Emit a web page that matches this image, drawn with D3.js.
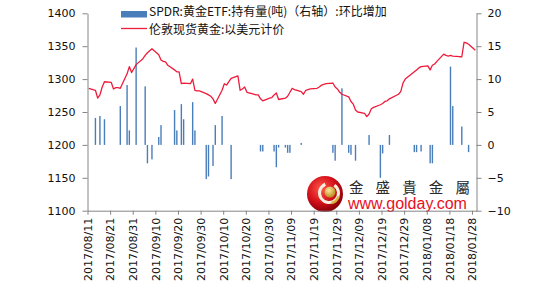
<!DOCTYPE html>
<html>
<head>
<meta charset="utf-8">
<script src="https://cdn.jsdelivr.net/npm/d3@7"></script>
<style>
  body { margin: 0; background: #fff; }
  svg { display: block; }
</style>
</head>
<body>
<svg id="chart" width="543" height="288"></svg>
<script>
// London spot gold, USD (left axis)
const goldSeries = [
  ["2017-08-11",1286],["2017-08-14",1283],["2017-08-15",1271],["2017-08-16",1276],["2017-08-17",1288],
  ["2017-08-18",1296],["2017-08-21",1295],["2017-08-22",1285],["2017-08-23",1287],["2017-08-24",1287],
  ["2017-08-25",1286],["2017-08-28",1308],["2017-08-29",1319],["2017-08-30",1310],["2017-08-31",1316],
  ["2017-09-01",1322],["2017-09-04",1331],["2017-09-05",1336],["2017-09-06",1340],["2017-09-07",1343],
  ["2017-09-08",1346],["2017-09-11",1337],["2017-09-12",1329],["2017-09-13",1327],["2017-09-14",1326],
  ["2017-09-15",1321],["2017-09-18",1314],["2017-09-19",1311],["2017-09-20",1311],["2017-09-21",1293],
  ["2017-09-22",1294],["2017-09-25",1293],["2017-09-26",1300],["2017-09-27",1283],["2017-09-28",1282],
  ["2017-09-29",1282],["2017-10-02",1278],["2017-10-03",1276],["2017-10-04",1274],["2017-10-05",1270],
  ["2017-10-06",1263],["2017-10-09",1283],["2017-10-10",1293],["2017-10-11",1291],["2017-10-12",1296],
  ["2017-10-13",1301],["2017-10-16",1305],["2017-10-17",1283],["2017-10-18",1285],["2017-10-19",1288],
  ["2017-10-20",1280],["2017-10-23",1277],["2017-10-24",1276],["2017-10-25",1276],["2017-10-26",1270],
  ["2017-10-27",1267],["2017-10-30",1271],["2017-10-31",1272],["2017-11-01",1276],["2017-11-02",1279],
  ["2017-11-03",1269],["2017-11-06",1271],["2017-11-07",1274],["2017-11-08",1280],["2017-11-09",1286],
  ["2017-11-10",1284],["2017-11-13",1281],["2017-11-14",1277],["2017-11-15",1283],["2017-11-16",1284],
  ["2017-11-17",1285],["2017-11-20",1286],["2017-11-21",1288],["2017-11-22",1291],["2017-11-23",1292],
  ["2017-11-24",1293],["2017-11-27",1294],["2017-11-28",1288],["2017-11-29",1285],["2017-11-30",1280],
  ["2017-12-01",1277],["2017-12-04",1273],["2017-12-05",1266],["2017-12-06",1262],["2017-12-07",1253],
  ["2017-12-08",1250],["2017-12-11",1248],["2017-12-12",1243],["2017-12-13",1247],["2017-12-14",1255],
  ["2017-12-15",1257],["2017-12-18",1261],["2017-12-19",1263],["2017-12-20",1266],["2017-12-21",1267],
  ["2017-12-22",1270],["2017-12-26",1277],["2017-12-27",1281],["2017-12-28",1294],["2017-12-29",1300],
  ["2018-01-02",1311],["2018-01-03",1314],["2018-01-04",1317],["2018-01-05",1319],["2018-01-08",1320],
  ["2018-01-09",1314],["2018-01-10",1321],["2018-01-11",1323],["2018-01-12",1327],["2018-01-15",1338],
  ["2018-01-16",1336],["2018-01-17",1335],["2018-01-18",1336],["2018-01-19",1335],["2018-01-22",1334],
  ["2018-01-23",1334],["2018-01-24",1356],["2018-01-25",1355],["2018-01-26",1353],["2018-01-29",1344]
];

// SPDR gold ETF holdings change, tonnes (right axis)
const etfSeries = [
  ["2017-08-14",4.1],["2017-08-16",4.4],["2017-08-18",3.9],["2017-08-25",5.9],["2017-08-28",9.1],
  ["2017-08-29",2.2],["2017-09-01",14.8],["2017-09-05",8.9],["2017-09-06",-2.8],["2017-09-08",-2.2],
  ["2017-09-11",1.2],["2017-09-12",3.0],["2017-09-18",5.3],["2017-09-19",2.2],["2017-09-21",6.2],
  ["2017-09-22",3.9],["2017-09-26",6.5],["2017-09-27",2.2],["2017-10-02",-5.2],["2017-10-03",-4.8],
  ["2017-10-05",-3.2],["2017-10-06",3.0],["2017-10-09",4.4],["2017-10-13",-5.2],["2017-10-26",-1.0],
  ["2017-10-27",-1.0],["2017-11-01",-1.0],["2017-11-02",-3.4],["2017-11-03",-0.4],["2017-11-06",-0.4],
  ["2017-11-07",-1.2],["2017-11-08",-1.2],["2017-11-13",0.3],["2017-11-27",-1.2],["2017-11-28",-2.4],
  ["2017-12-01",8.6],["2017-12-04",-1.2],["2017-12-05",-1.5],["2017-12-07",-2.4],["2017-12-13",1.5],
  ["2017-12-18",-5.0],["2017-12-19",-1.3],["2017-12-22",1.5],["2018-01-02",-1.1],["2018-01-03",-1.1],
  ["2018-01-05",-1.0],["2018-01-09",-2.8],["2018-01-10",-2.8],["2018-01-18",11.9],["2018-01-19",5.9],
  ["2018-01-23",2.8],["2018-01-26",-1.1]
];

const xTickLabels = ["2017/08/11","2017/08/21","2017/08/31","2017/09/10","2017/09/20","2017/09/30",
  "2017/10/10","2017/10/20","2017/10/30","2017/11/09","2017/11/19","2017/11/29","2017/12/09",
  "2017/12/19","2017/12/29","2018/01/08","2018/01/18","2018/01/28"];
const leftTicks = [1100, 1150, 1200, 1250, 1300, 1350, 1400];
const rightTicks = [-10, -5, 0, 5, 10, 15, 20];
const legendLabels = ["SPDR:黄金ETF:持有量(吨)（右轴）:环比增加", "伦敦现货黄金:以美元计价"];
const brandChars = ["金", "盛", "貴", "金", "屬"];
const brandUrl = "www.golday.com";

const svg = d3.select("#chart"),
      margin = {top: 13.3, right: 66.5, bottom: 77.3, left: 87.5},
      width = +svg.attr("width"),
      height = +svg.attr("height");

const parseDash = d3.timeParse("%Y-%m-%d");
const parseSlash = d3.timeParse("%Y/%m/%d");
const fmt = d3.timeFormat("%Y/%m/%d");

const x = d3.scaleTime()
    .domain([parseDash("2017-08-11"), parseDash("2018-01-30")])
    .range([margin.left, width - margin.right]);
const halfDay = (x(parseDash("2017-08-12")) - x(parseDash("2017-08-11"))) / 2;

const yLeft = d3.scaleLinear().domain([1100, 1400]).range([height - margin.bottom, margin.top]);
const yRight = d3.scaleLinear().domain([-10, 20]).range([height - margin.bottom, margin.top]);

const axisColor = "#868686";
const axisFont = "'DejaVu Sans', Verdana, sans-serif";

// watermark logo (behind everything)
const logo = svg.append("g").attr("class", "logo");
const defs = svg.append("defs");
const redGrad = defs.append("radialGradient").attr("id", "redBall")
    .attr("cx", "40%").attr("cy", "35%").attr("r", "65%");
redGrad.append("stop").attr("offset", "0%").attr("stop-color", "#ff5a4a");
redGrad.append("stop").attr("offset", "60%").attr("stop-color", "#d4101a");
redGrad.append("stop").attr("offset", "100%").attr("stop-color", "#8a0008");
const goldGrad = defs.append("radialGradient").attr("id", "goldBall")
    .attr("cx", "40%").attr("cy", "35%").attr("r", "65%");
goldGrad.append("stop").attr("offset", "0%").attr("stop-color", "#fbe9a0");
goldGrad.append("stop").attr("offset", "100%").attr("stop-color", "#b98a1a");

logo.append("circle").attr("cx", 325).attr("cy", 194).attr("r", 18).attr("fill", "url(#redBall)");
logo.append("path")
    .attr("d", d3.arc()({innerRadius: 8, outerRadius: 11, startAngle: 0.6, endAngle: 2 * Math.PI - 0.4}))
    .attr("transform", "translate(329,193)")
    .attr("fill", "#f6efe0");
logo.append("path")
    .attr("d", d3.arc()({innerRadius: 9, outerRadius: 11.5, startAngle: 1.9, endAngle: 2.9}))
    .attr("transform", "translate(329,193)")
    .attr("fill", "#d8b440");
logo.append("circle").attr("cx", 330).attr("cy", 192).attr("r", 5.5).attr("fill", "url(#goldBall)");

logo.selectAll("text.brand")
    .data(brandChars)
    .join("text")
    .attr("class", "brand")
    .attr("x", (d, i) => 349 + i * 26.6)
    .attr("y", 192.5)
    .attr("font-family", "'Noto Sans CJK TC', 'Noto Sans CJK SC', sans-serif")
    .attr("font-size", 14.5)
    .attr("fill", "#2a2a2a")
    .text(d => d);

logo.append("text")
    .attr("x", 348)
    .attr("y", 208.5)
    .attr("font-family", "'Liberation Sans', Arial, sans-serif")
    .attr("font-size", 16)
    .attr("fill", "#e8101c")
    .text(brandUrl);

// bars: ETF holdings change
const zeroY = yRight(0);
svg.append("g")
  .selectAll("rect")
  .data(etfSeries)
  .join("rect")
    .attr("x", d => x(parseDash(d[0])) + halfDay - 0.7)
    .attr("width", 1.4)
    .attr("y", d => Math.min(yRight(d[1]), zeroY))
    .attr("height", d => Math.abs(yRight(d[1]) - zeroY))
    .attr("fill", "#4a7ebb");

// line: London spot gold
const line = d3.line()
    .x(d => x(parseDash(d[0])) + halfDay)
    .y(d => yLeft(d[1]));

svg.append("path")
    .datum(goldSeries)
    .attr("d", line)
    .attr("fill", "none")
    .attr("stroke", "#ee1b3b")
    .attr("stroke-width", 1.3)
    .attr("stroke-linejoin", "round");

// axes
function styleAxis(g) {
  g.select(".domain").attr("stroke", axisColor);
  g.selectAll(".tick line").attr("stroke", axisColor);
  g.selectAll(".tick text").attr("fill", "#111").attr("font-family", axisFont).attr("font-size", 11);
}

svg.append("g")
    .attr("transform", `translate(${margin.left},0)`)
    .call(d3.axisLeft(yLeft).tickValues(leftTicks).tickFormat(d3.format("d"))
        .tickSize(5).tickSizeOuter(0).tickPadding(7))
    .call(styleAxis);

svg.append("g")
    .attr("transform", `translate(${width - margin.right},0)`)
    .call(d3.axisRight(yRight).tickValues(rightTicks).tickFormat(d3.format("d"))
        .tickSize(5).tickSizeOuter(0).tickPadding(6))
    .call(styleAxis);

const xAxis = svg.append("g")
    .attr("transform", `translate(0,${height - margin.bottom})`)
    .call(d3.axisBottom(x)
        .tickValues(xTickLabels.map(parseSlash))
        .tickFormat(fmt)
        .tickSize(4)
        .tickSizeOuter(0))
    .call(styleAxis);

xAxis.selectAll(".tick text")
    .attr("transform", "rotate(-90)")
    .attr("text-anchor", "end")
    .attr("x", -7)
    .attr("y", 0)
    .attr("dy", "0.35em");

// legend
const legend = svg.append("g")
    .attr("font-family", "'Noto Sans CJK SC', sans-serif")
    .attr("font-size", 12)
    .attr("fill", "#111");

legend.append("rect")
    .attr("x", 121).attr("y", 11).attr("width", 26).attr("height", 6.5)
    .attr("fill", "#4a7ebb");
legend.append("line")
    .attr("x1", 121).attr("x2", 147).attr("y1", 28.5).attr("y2", 28.5)
    .attr("stroke", "#ee1b3b").attr("stroke-width", 1.3);

legend.selectAll("text")
    .data(legendLabels)
    .join("text")
    .attr("x", 149)
    .attr("y", (d, i) => 16 + i * 17.5)
    .text(d => d);
</script>
</body>
</html>
